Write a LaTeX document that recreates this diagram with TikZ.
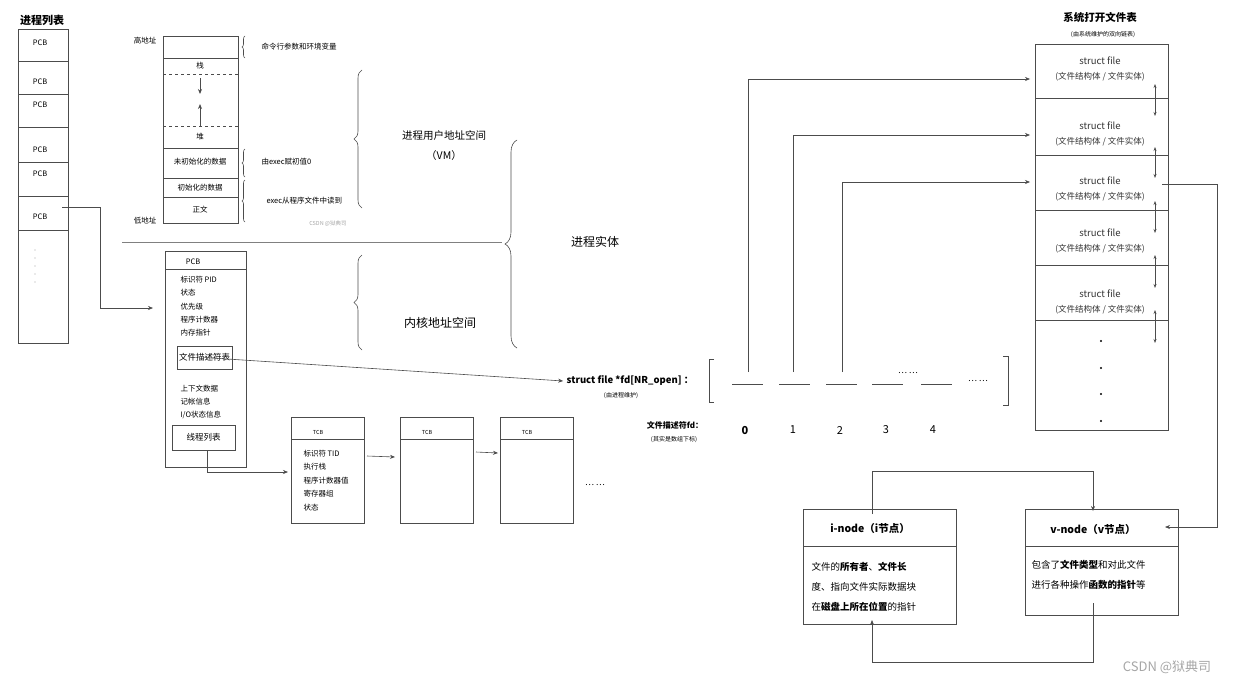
\documentclass[tikz,border=0pt]{standalone}
\usepackage{fontspec}
\setmainfont{Noto Sans CJK SC}
\usetikzlibrary{arrows.meta,decorations.pathreplacing}
\begin{document}
\begin{tikzpicture}[x=1pt,y=-1pt,
  ln/.style={draw=black!70,line width=0.6pt},
  arr/.style={ln,-{Stealth[length=5pt,width=4pt]}},
  darr/.style={ln,{Stealth[length=4pt,width=3pt]}-{Stealth[length=4pt,width=3pt]}},
  tiny/.style={font=\fontsize{7.5}{8}\selectfont},
  sm/.style={font=\fontsize{8.5}{9}\selectfont},
  md/.style={font=\fontsize{10.5}{11}\selectfont},
  brc/.style={ln,decorate,decoration={brace,amplitude=8pt}},
  brcb/.style={ln,decorate,decoration={brace,amplitude=12pt}},
  brcs/.style={ln,decorate,decoration={brace,amplitude=3pt}}]
\useasboundingbox (0,0) rectangle (1246,686);
% process list
\node[font=\fontsize{11}{12}\selectfont\bfseries] (plt) at (42,20) {进程列表};
\draw[ln] (18,29) rectangle (68,343);
\foreach \y in {61,94,127,162,196,230}{\draw[ln] (18,\y) -- (68,\y);}
\foreach \y/\n in {43/a,82/b,105/c,150/d,174/e,217/f}{\node[tiny] (pcb\n) at (40,\y) {PCB};}
\foreach \y in {250,258,266,274,282}{\fill (35,\y) circle (0.4);}
% memory layout
\draw[ln] (163,36) rectangle (238,223);
\foreach \y in {58,148,178,197}{\draw[ln] (163,\y) -- (238,\y);}
\draw[ln,dashed] (163,74) -- (238,74); \draw[ln,dashed] (163,126) -- (238,126);
\node[tiny] (zhan) at (200,66) {栈};
\node[tiny] (dui) at (200,137) {堆};
\node[tiny] (wcs) at (200,162) {未初始化的数据};
\node[tiny] (cs) at (200,188) {初始化的数据};
\node[tiny] (zw) at (200,210) {正文};
\coordinate (d1) at (200,78); \coordinate (d2) at (200,94);
\coordinate (u1) at (200,126); \coordinate (u2) at (200,104);
\draw[arr,line width=0.8pt] (d1) -- (d2); \draw[arr,line width=0.8pt] (u1) -- (u2);
\node[tiny] (gdz) at (145,41) {高地址};
\node[tiny] (ddz) at (145,221) {低地址};
\draw[brcs] (245,58) -- (245,36); \node[tiny,anchor=west] (l1) at (258,47) {命令行参数和环境变量};
\draw[brcs] (245,177) -- (245,149); \node[tiny,anchor=west] (l2) at (258,162) {由exec赋初值0};
\draw[brcs] (245,222) -- (245,180); \node[tiny,anchor=west] (l3) at (263,201) {exec从程序文件中读到};
\node[font=\fontsize{5.5}{6}\selectfont,text=black!35] (wm1) at (328,224) {CSDN @狱典司};
\draw[brc] (362,208) -- (362,70);
\node[md] (vm1) at (444,136) {进程用户地址空间};
\node[md] (vm2) at (444,156) {（VM）};
\draw[draw=black!50,line width=0.5pt] (122,242) -- (502,242);
\draw[brc] (362,350) -- (362,255);
\node[font=\fontsize{12}{12}\selectfont] (kern) at (440,323) {内核地址空间};
\draw[brcb] (517,348) -- (517,140);
\node[font=\fontsize{12}{12}\selectfont] (ent) at (595,242) {进程实体};
% PCB box
\draw[ln] (165,251) rectangle (246,467); \draw[ln] (165,269) -- (246,269);
\node[tiny] (pcbh) at (193,262) {PCB};
\foreach \y/\t in {280/{标识符 PID},293/状态,307/优先级,320/程序计数器,333/内存指针,389/上下文数据,402/记帐信息,415/{I/O状态信息}}{\node[tiny,anchor=west] at (177,\y) {\t};}
\node[ln,draw,minimum width=55pt,minimum height=23pt,sm,inner sep=0pt] (fdt) at (204.5,357.5) {文件描述符表};
\node[ln,draw,minimum width=63pt,minimum height=25pt,sm,inner sep=0pt] (tlist) at (203.5,437.5) {\raisebox{-5pt}{线程列表}};
\coordinate (pa) at (62,207); \coordinate (pb) at (153,308);
\draw[arr] (pa) -- (100,207) -- (100,308) -- (pb);
% TCBs
\foreach \x/\n in {291/1,400/2,500/3}{
  \draw[ln] (\x,417) rectangle (\x+73,523); \draw[ln] (\x,439) -- (\x+73,439);
  \node[font=\fontsize{5.5}{6}\selectfont] (tcb\n) at (\x+27,432) {TCB};}
\foreach \y/\t in {454/{标识符 TID},467/执行栈,481/程序计数器值,494/寄存器组,508/状态}{\node[tiny,anchor=west] at (300,\y) {\t};}
\coordinate (tl) at (207,450); \coordinate (t1) at (288,472);
\draw[arr] (tl) -- (207,472) -- (t1);
\draw[arr] (367,456) -- (395,457); \draw[arr] (476,452) -- (498,453);
\node[sm] (dd1) at (595,485) {… …};
% fd array
\node[font=\fontsize{9.5}{10}\selectfont\bfseries] (fdarr) at (630,381) {struct file *fd[NR\_open] ：};
\node[font=\fontsize{6}{7}\selectfont] (fdm) at (621,396) {(由进程维护)};
\draw[arr] (fdt.center) -- (fdarr.west);
\draw[ln] (714,359) -- (709,359) -- (709,402) -- (714,402);
\draw[ln] (1003,356) -- (1008,356) -- (1008,405) -- (1003,405);
\foreach \a in {732,779,826,872,921}{\draw[ln] (\a,384) -- (\a+31,384);}
\node[sm] (dd2) at (908,373) {… …};
\node[sm] (dd3) at (978,381) {… …};
\node[font=\fontsize{8}{9}\selectfont\bfseries] (fdl) at (675,425) {文件描述符fd：};
\node[font=\fontsize{6}{7}\selectfont] (fdl2) at (674,440) {(其实是数组下标)};
\node[font=\fontsize{11}{12}\selectfont\bfseries] (n0) at (745,430) {0};
\foreach \x/\k in {793/1,840/2,886/3,933/4}{\node[font=\fontsize{11}{12}\selectfont] (n\k) at (\x,430) {\k};}
% system open file table
\node[font=\fontsize{10.5}{11}\selectfont\bfseries] (sft) at (1100,17) {系统打开文件表};
\node[font=\fontsize{6}{7}\selectfont] (sft2) at (1103,35) {(由系统维护的双向链表)};
\draw[ln] (1035,44) rectangle (1168,430);
\foreach \y in {98,155,210,265,320}{\draw[ln] (1035,\y) -- (1168,\y);}
\foreach \y/\n in {61/1,126/2,181/3,233/4,294/5}{
  \node[font=\fontsize{9.5}{10}\selectfont,text=black!80] (sf\n) at (1100,\y) {struct file};
  \node[font=\fontsize{8.5}{9}\selectfont,text=black!80] (sfs\n) at (1100,\y+16) {(文件结构体 / 文件实体)};}
\foreach \a/\b in {84/116,147/178,201/233,255/288,310/343}{\draw[darr] (1155,\a) -- (1155,\b);}
\foreach \y in {341,368,394,421}{\fill (1101,\y) circle (1.2);}
\coordinate (c0) at (748,372); \coordinate (c1) at (793,372); \coordinate (c2) at (842,372);
\draw[arr] (c0) -- (748,79) -- (1030,79);
\draw[arr] (c1) -- (793,135) -- (1030,135);
\draw[arr] (c2) -- (842,182) -- (1030,182);
% inode / vnode
\draw[ln] (803,509) rectangle (956,624); \draw[ln] (803,546) -- (956,546);
\node[font=\fontsize{10.5}{11}\selectfont\bfseries] (inode) at (870,528) {i-node（i节点）};
\node[font=\fontsize{9.5}{10}\selectfont,anchor=west] at (808,567) {文件的\textbf{所有者}、\textbf{文件长}};
\node[font=\fontsize{9.5}{10}\selectfont,anchor=west] at (808,587) {度、指向文件实际数据块};
\node[font=\fontsize{9.5}{10}\selectfont,anchor=west] at (808,607) {在\textbf{磁盘上所在位置}的指针};
\draw[ln] (1025,509) rectangle (1178,615); \draw[ln] (1025,546) -- (1178,546);
\node[font=\fontsize{10.5}{11}\selectfont\bfseries] (vnode) at (1093,529) {v-node（v节点）};
\node[font=\fontsize{9.5}{10}\selectfont,anchor=west] at (1028,565) {包含了\textbf{文件类型}和对此文件};
\node[font=\fontsize{9.5}{10}\selectfont,anchor=west] at (1028,585) {进行各种操作\textbf{函数的指针}等};
\coordinate (s3) at (1162,184); \coordinate (vin) at (1165,527);
\draw[arr] (s3) -- (1217,184) -- (1217,527) -- (vin);
\draw[arr] (872,514) -- (872,471) -- (1093,471) -- (1093,511);
\draw[arr] (1093,603) -- (1093,662) -- (872,662) -- (872,620);
\node[font=\fontsize{13}{14}\selectfont,text=black!35] (wm2) at (1167,667) {CSDN @狱典司};
\end{tikzpicture}
\end{document}
